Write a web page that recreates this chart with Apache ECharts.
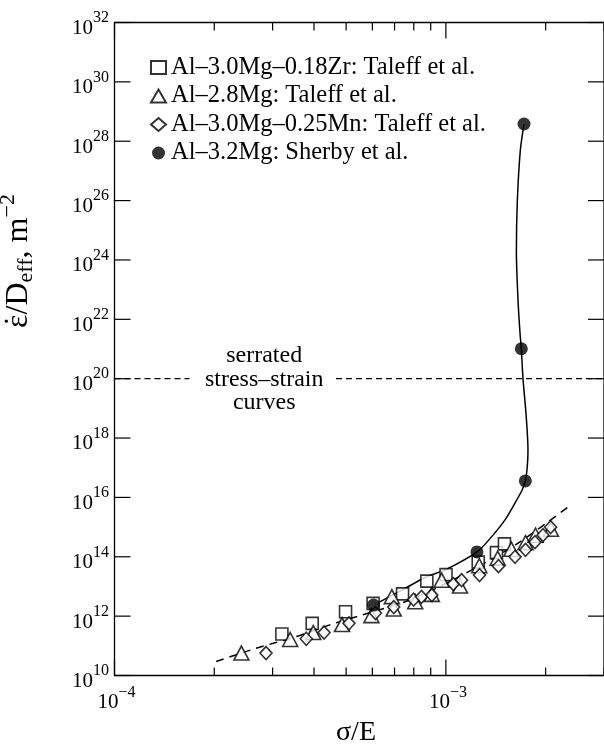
<!DOCTYPE html>
<html><head><meta charset="utf-8">
<script src="https://cdn.jsdelivr.net/npm/echarts@6/dist/echarts.min.js"></script>
<style>html,body{margin:0;padding:0;background:#fff}#c{width:604px;height:751px}</style>
</head><body><div id="c"></div>
<script>
const FONT = '"Liberation Serif","Times New Roman",serif';

// axis ranges and ticks
const xMin = 1e-4, xMax = 3e-3;
const yMin = 1e10, yMax = 1e32;
const xMajorTicks = [1e-4, 1e-3];
const xTickExponents = ['−4', '−3'];
const xMinorTicks = [2e-4, 3e-4, 4e-4, 5e-4, 6e-4, 7e-4, 8e-4, 9e-4, 2e-3, 3e-3];
const yMajorTicks = [1e10, 1e12, 1e14, 1e16, 1e18, 1e20, 1e22, 1e24, 1e26, 1e28, 1e30, 1e32];
const yTickExponents = ['10', '12', '14', '16', '18', '20', '22', '24', '26', '28', '30', '32'];

// series names
const zrName = 'Al–3.0Mg–0.18Zr: Taleff et al.';
const mgName = 'Al–2.8Mg: Taleff et al.';
const mnName = 'Al–3.0Mg–0.25Mn: Taleff et al.';
const sherbyName = 'Al–3.2Mg: Sherby et al.';

// data [sigma/E, edot/Deff]
const zrData = [[3.20e-4,2.49e11],[3.95e-4,5.71e11],[4.98e-4,1.40e12],[6.03e-4,2.69e12],[7.40e-4,5.61e12],
  [8.76e-4,1.51e13],[1.001e-3,2.50e13],[1.252e-3,6.59e13],[1.421e-3,1.38e14],[1.502e-3,2.72e14]];
const mgData = [[2.415e-4,5.71e10],[3.39e-4,1.63e11],[3.98e-4,2.80e11],[4.86e-4,5.20e11],[5.96e-4,1.04e12],
  [6.87e-4,4.55e12],[6.96e-4,1.73e12],[8.08e-4,3.04e12],[9.07e-4,5.40e12],[9.71e-4,1.63e13],[1.103e-3,1.03e13],
  [1.261e-3,5.02e13],[1.433e-3,8.99e13],[1.576e-3,1.80e14],[1.739e-3,2.99e14],[1.864e-3,5.34e14],[2.074e-3,8.49e14]];
const mnData = [[2.866e-4,5.71e10],[3.79e-4,1.73e11],[4.29e-4,2.80e11],[5.10e-4,5.71e11],[6.13e-4,1.27e12],
  [6.96e-4,2.02e12],[7.99e-4,3.61e12],[8.44e-4,4.48e12],[9.07e-4,5.11e12],[1.053e-3,1.20e13],[1.115e-3,1.63e13],
  [1.263e-3,2.41e13],[1.441e-3,4.83e13],[1.617e-3,9.94e13],[1.739e-3,1.71e14],[1.857e-3,3.10e14],[1.963e-3,5.34e14],[2.070e-3,9.93e14]];
const sherbyData = [[6.05e-4,2.36e12],[1.241e-3,1.46e14],[1.737e-3,3.59e16],[1.689e-3,1.02e21],[1.721e-3,3.8e28]];

// solid curve through Sherby data
const sherbyCurve = [[6.05e-4,2.36e12],[7.37e-4,7.53e12],[8.66e-4,2.01e13],[1.006e-3,3.83e13],[1.241e-3,1.46e14],
  [1.373e-3,4.68e14],[1.506e-3,1.71e15],[1.613e-3,6.22e15],[1.697e-3,1.75e16],[1.737e-3,3.59e16],[1.760e-3,1.06e17],
  [1.769e-3,3.87e17],[1.748e-3,5.1e18],[1.709e-3,1e20],[1.689e-3,1.02e21],[1.674e-3,3.34e21],[1.651e-3,4.31e22],
  [1.632e-3,2.07e24],[1.643e-3,1e26],[1.677e-3,4.81e27],[1.721e-3,3.8e28]];
// dashed curve through Taleff data
const fitCurve = [[2.027e-4,2.96e10],[2.673e-4,8.22e10],[3.525e-4,2.02e11],[4.54e-4,5.41e11],[5.587e-4,1.09e12],
  [7.99e-4,3.9e12],[1.168e-3,3.11e13],[1.651e-3,2.87e14],[2.387e-3,5.67e15]];

// serrated boundary
const serratedLevel = 1e20;
const serratedLeft = [[1e-4, serratedLevel], [1.685e-4, serratedLevel]];
const serratedRight = [[4.66e-4, serratedLevel], [3e-3, serratedLevel]];
const serratedLines = ['serrated', 'stress–strain', 'curves'];
const serratedTextPos = [[2.83e-4, serratedLevel]];

// axis titles
const xTitle = 'σ/E';
const yTitleParts = ['ε', '/D', 'eff', ', m', '−2'];

const mctx = document.createElement('canvas').getContext('2d');
function tw(text, size) { mctx.font = size + 'px ' + FONT; return mctx.measureText(text).width; }
function txt(text, size, x, y, align) {
  return {type: 'text', x: x, y: y, style: {text: text, font: size + 'px ' + FONT, fill: '#000', align: align || 'left', verticalAlign: 'middle'}};
}

const chart = echarts.init(document.getElementById('c'), null, {renderer: 'canvas'});

const BASE = 21, SUP = 16;
const xTickData = xMajorTicks.map((v, i) => [v, yMin, 1, i]).concat(xMinorTicks.map(v => [v, yMin, 0, -1]));
const yTickData = yMajorTicks.map((v, i) => [xMin, v, 1, i]);

const hollow = {color: '#fff', borderColor: '#000', borderWidth: 1.6};

// y title as rotated group
const MAIN = 32, SMALL = 22;
const wE = tw(yTitleParts[0], MAIN), wD = tw(yTitleParts[1], MAIN), wEff = tw(yTitleParts[2], SMALL),
      wM = tw(yTitleParts[3], MAIN), wSup = tw(yTitleParts[4], SMALL);
const wTot = wE + wD + wEff + wM + wSup;
let cx = -wTot / 2;
const yTitleChildren = [];
yTitleChildren.push(txt(yTitleParts[0], MAIN, cx, -0.3375 * MAIN));
yTitleChildren.push(txt('˙', MAIN, cx + wE / 2, -0.3375 * MAIN - 1, 'center'));
cx += wE;
yTitleChildren.push(txt(yTitleParts[1], MAIN, cx, -0.3375 * MAIN)); cx += wD;
yTitleChildren.push(txt(yTitleParts[2], SMALL, cx, 5 - 0.3375 * SMALL)); cx += wEff;
yTitleChildren.push(txt(yTitleParts[3], MAIN, cx, -0.3375 * MAIN)); cx += wM;
yTitleChildren.push(txt(yTitleParts[4], SMALL, cx, -13 - 0.3375 * SMALL));

chart.setOption({
  animation: false,
  backgroundColor: '#fff',
  grid: {left: 114.5, top: 22.5, width: 492, height: 653, show: true, borderColor: '#000', borderWidth: 1.3, backgroundColor: 'transparent', containLabel: false},
  xAxis: {type: 'log', logBase: 10, min: xMin, max: xMax, axisLine: {show: false}, axisTick: {show: false}, axisLabel: {show: false}, splitLine: {show: false}, minorTick: {show: false}},
  yAxis: {type: 'log', logBase: 10, min: yMin, max: yMax, axisLine: {show: false}, axisTick: {show: false}, axisLabel: {show: false}, splitLine: {show: false}, minorTick: {show: false}},
  legend: {
    orient: 'vertical', left: 145, top: 48.5, itemWidth: 15, itemHeight: 13, itemGap: 0.5,
    textStyle: {fontSize: 24.5, fontFamily: FONT, color: '#000', lineHeight: 28},
    data: [zrName, mgName, mnName, sherbyName]
  },
  graphic: [
    {type: 'text', x: 356, y: 733, style: {text: xTitle, font: '28px ' + FONT, fill: '#000', align: 'center', verticalAlign: 'middle'}},
    {type: 'group', x: 29, y: 261, rotation: Math.PI / 2, children: yTitleChildren}
  ],
  series: [
    {name: 'serratedLeft', type: 'line', data: serratedLeft, symbol: 'none', silent: true, z: 1,
      lineStyle: {color: '#000', width: 1.3, type: [6, 4]}},
    {name: 'serratedRight', type: 'line', data: serratedRight, symbol: 'none', silent: true, z: 1,
      lineStyle: {color: '#000', width: 1.3, type: [6, 4]}},
    {name: 'serratedLabel', type: 'custom', data: serratedTextPos, silent: true, clip: false, z: 5,
      renderItem: function (params, api) {
        const p = api.coord([api.value(0), api.value(1)]);
        return {type: 'group', children: serratedLines.map((s, i) => txt(s, 24, p[0], p[1] + (i - 1) * 23.5 + 1, 'center'))};
      }},
    {name: 'fit', type: 'line', data: fitCurve, symbol: 'none', smooth: 0.3, silent: true, z: 1,
      lineStyle: {color: '#000', width: 1.5, type: [8, 6]}},
    {name: 'sherbyCurve', type: 'line', data: sherbyCurve, symbol: 'none', smooth: 0.3, silent: true, z: 1,
      lineStyle: {color: '#000', width: 1.5}},
    {name: zrName, type: 'scatter', data: zrData, symbol: 'rect', symbolSize: 12, itemStyle: hollow, z: 3},
    {name: mgName, type: 'scatter', data: mgData, symbol: 'triangle', symbolSize: [15, 14], itemStyle: hollow, z: 3},
    {name: mnName, type: 'scatter', data: mnData, symbol: 'diamond', symbolSize: [12, 13], itemStyle: hollow, z: 3},
    {name: sherbyName, type: 'scatter', data: sherbyData, symbol: 'circle', symbolSize: 13, itemStyle: {color: '#000'}, z: 4},
    {name: 'xTicks', type: 'custom', data: xTickData, silent: true, clip: false, z: 5,
      renderItem: function (params, api) {
        const v = api.value(0), major = api.value(2), idx = api.value(3);
        const p = api.coord([v, yMin]);
        const cs = params.coordSys;
        const L = major ? 16 : 8;
        const bottom = cs.y + cs.height, top = cs.y;
        const st = {stroke: '#000', lineWidth: 1.2};
        const ch = [
          {type: 'line', shape: {x1: p[0], y1: bottom, x2: p[0], y2: bottom - L}, style: st},
          {type: 'line', shape: {x1: p[0], y1: top, x2: p[0], y2: top + L}, style: st}
        ];
        if (major) {
          const e = xTickExponents[idx];
          const w1 = tw('10', BASE), w2 = tw(e, SUP);
          const x0 = p[0] + 2 - (w1 + w2) / 2;
          ch.push(txt('10', BASE, x0, bottom + 34.5 - 0.3375 * BASE));
          ch.push(txt(e, SUP, x0 + w1, bottom + 22.3 - 0.3375 * SUP));
        }
        return {type: 'group', children: ch};
      }},
    {name: 'yTicks', type: 'custom', data: yTickData, silent: true, clip: false, z: 5,
      renderItem: function (params, api) {
        const v = api.value(1), idx = api.value(3);
        const p = api.coord([xMin, v]);
        const cs = params.coordSys;
        const L = 16;
        const left = cs.x, right = cs.x + cs.width;
        const st = {stroke: '#000', lineWidth: 1.2};
        const e = yTickExponents[idx];
        const w2 = tw(e, SUP);
        const xr = left - 5.5;
        return {type: 'group', children: [
          {type: 'line', shape: {x1: left, y1: p[1], x2: left + L, y2: p[1]}, style: st},
          {type: 'line', shape: {x1: right, y1: p[1], x2: right - L, y2: p[1]}, style: st},
          txt('10', BASE, xr - w2, p[1] + 13 - 0.3375 * BASE, 'right'),
          txt(e, SUP, xr, p[1] + 1 - 0.3375 * SUP, 'right')
        ]};
      }}
  ]
});
</script></body></html>
